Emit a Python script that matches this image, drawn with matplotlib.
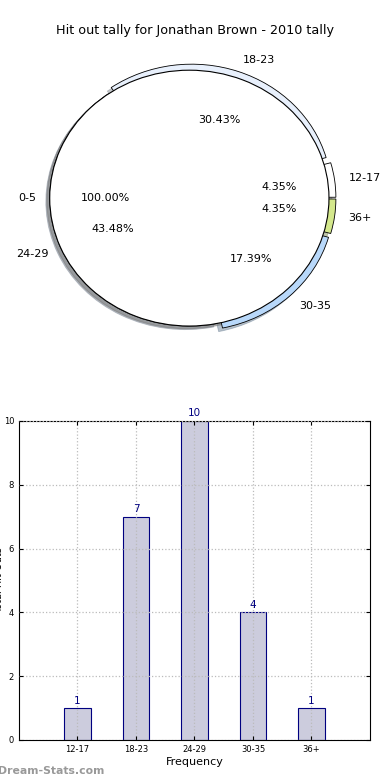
import matplotlib
matplotlib.use('Agg')
import matplotlib.pyplot as plt

# hit out tally per frequency bracket
labels = ['12-17', '18-23', '24-29', '30-35', '36+']
counts = [1, 7, 10, 4, 1]
colors = ['#ffffff', '#e8f0fc', '#cfe0f6', '#b8d8fa', '#d4e88c']
explode = [0.05, 0.05, 0.0, 0.05, 0.05]

other_label = ['0-5']
other_count = [1]

fig = plt.figure(figsize=(3.9, 7.8), dpi=100)

# pie on top
ax1 = fig.add_axes([0.038, 0.541, 0.895, 0.410])
ax1.pie(counts, labels=labels, colors=colors, explode=explode,
        shadow={'ox': -0.02, 'oy': -0.02, 'shade': 0.4},
        autopct='%1.2f%%', pctdistance=0.6, labeldistance=1.1,
        wedgeprops={'linewidth': 0.6, 'edgecolor': 'black'},
        textprops={'fontsize': 8})
ax1.pie(other_count, labels=other_label, colors=['white'],
        shadow={'ox': -0.015, 'oy': -0.015, 'shade': 0.55},
        autopct='%1.2f%%', pctdistance=0.6, labeldistance=1.1,
        wedgeprops={'linewidth': 0.8, 'edgecolor': 'black'},
        textprops={'fontsize': 8})
ax1.set_aspect('auto')
ax1.set_xlim(-1.25, 1.25)
ax1.set_ylim(-1.25, 1.25)
fig.text(0.5, 0.961, 'Hit out tally for Jonathan Brown - 2010 tally',
         ha='center', va='center', fontsize=9.2)

# bars at the bottom
ax2 = fig.add_axes([0.0487, 0.0513, 0.9, 0.409])
x = [i + 1 for i in range(len(labels))]
bars = ax2.bar(x, counts, width=0.45, color='#ccccdd', edgecolor='#000080',
               linewidth=0.8, zorder=1)
for xi, c in zip(x, counts):
    ax2.text(xi, c + 0.08, str(c), ha='center', va='bottom',
             color='#000080', fontsize=7.5)
ax2.set_xlim(0, 6)
ax2.set_ylim(0, 10)
ax2.set_xticks(x)
ax2.set_xticklabels(labels)
ax2.set_yticks(range(0, 11, 2))
ax2.tick_params(direction='in', labelsize=6, length=3, top=True, right=True)
ax2.grid(True, linestyle=':', color='#bbbbbb', linewidth=0.9, zorder=2)
ax2.set_axisbelow(False)
ax2.set_xlabel('Frequency', fontsize=8, labelpad=2)
fig.text(-0.002, 0.256, 'Total Hit Outs', rotation=90, ha='center',
         va='center', fontsize=7)

fig.text(-0.004, 0.012, 'Dream-Stats.com', color='#999999', fontsize=7.8,
         fontweight='bold', ha='left', va='center')

fig.savefig('out.png', dpi=100)
